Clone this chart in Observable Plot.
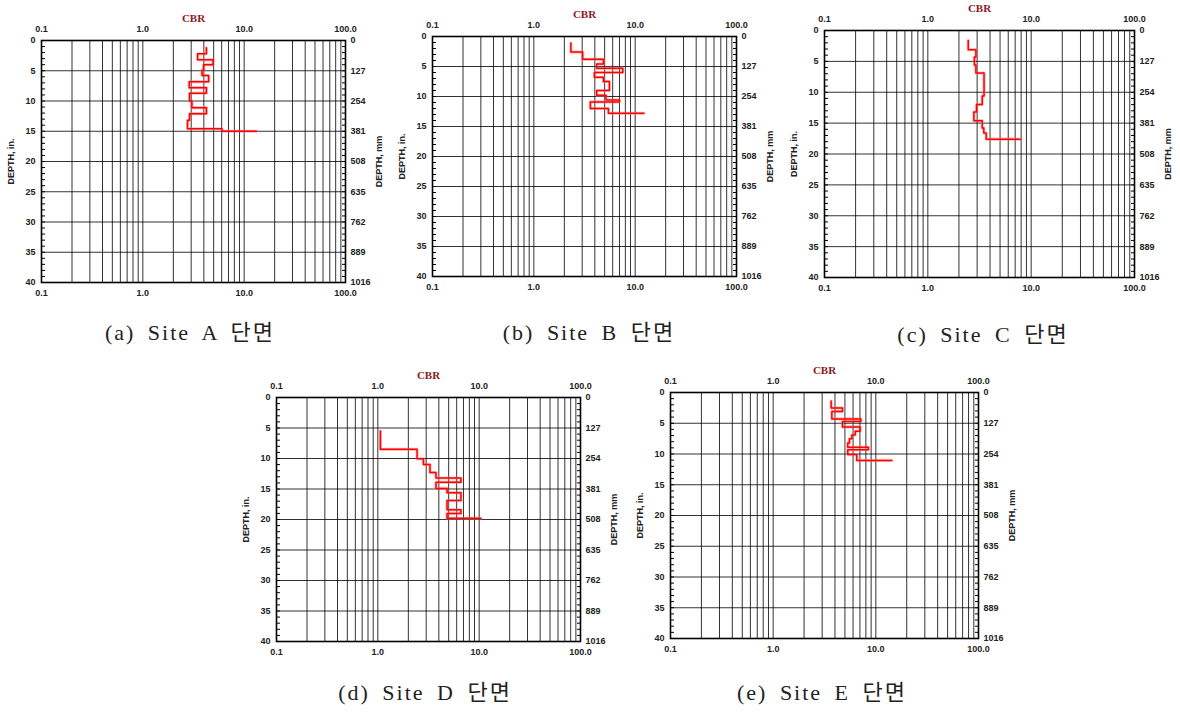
<!DOCTYPE html>
<html><head><meta charset="utf-8">
<script src="https://cdn.jsdelivr.net/npm/d3@7"></script>
<script src="https://cdn.jsdelivr.net/npm/@observablehq/plot@0.6"></script>
<style>
body{margin:0;background:#fff;}
#root{position:relative;width:1180px;height:713px;overflow:hidden;background:#fff;}
.panel{position:absolute;}
.cap{position:absolute;transform:translateX(-50%);white-space:nowrap;font-family:"Liberation Serif","Noto Sans CJK KR",serif;font-size:22px;letter-spacing:2px;word-spacing:5px;color:#222;line-height:26px;}
</style></head><body><div id="root"></div>
<script>
// Axis ticks & labels
const cbrTicks = [0.1, 1, 10, 100];
const cbrTickLabels = ["0.1", "1.0", "10.0", "100.0"];
const depthTicks = [0, 5, 10, 15, 20, 25, 30, 35, 40];
const mmTickLabels = ["0", "127", "254", "381", "508", "635", "762", "889", "1016"];
const gridCbr = [0.2,0.3,0.4,0.5,0.6,0.7,0.8,0.9,1,2,3,4,5,6,7,8,9,10,20,30,40,50,60,70,80,90];
const gridDepth = [5, 10, 15, 20, 25, 30, 35];
const minorInches = d3.range(1, 40);

// DCP profiles: depth (in.) where each layer starts, CBR of that layer
const siteA_depth = [1.2, 2.2, 3.2, 4.0, 4.9, 5.8, 6.8, 7.8, 8.7, 10.0, 11.1, 12.1, 13.2, 14.6, 15.0];
const siteA_cbr   = [4.24, 3.47, 4.93, 3.98, 3.84, 4.46, 2.87, 4.24, 2.89, 3.05, 4.24, 2.89, 2.76, 6.04, 13.2];
const siteB_depth = [1.1, 2.6, 3.8, 4.6, 5.3, 6.0, 6.8, 7.5, 9.0, 9.8, 10.6, 10.9, 12.0, 12.8];
const siteB_cbr   = [2.32, 3.03, 4.86, 4.17, 7.55, 3.96, 4.86, 5.57, 4.17, 5.16, 7.0, 3.61, 5.44, 12.2];
const siteC_depth = [1.6, 3.1, 4.3, 5.6, 6.9, 10.6, 12.0, 13.2, 14.6, 15.8, 16.6, 17.6];
const siteC_cbr   = [2.46, 2.92, 2.82, 2.92, 3.5, 3.36, 2.96, 2.79, 3.36, 3.48, 3.67, 7.9];
const siteD_depth = [5.5, 8.5, 10.05, 11.0, 12.3, 13.2, 13.9, 14.9, 15.6, 16.9, 18.4, 19.0, 19.8];
const siteD_cbr   = [1.06, 2.44, 2.82, 3.27, 3.75, 6.61, 3.75, 4.82, 6.61, 4.82, 6.61, 4.82, 10.4];
const siteE_depth = [1.4, 2.5, 3.1, 4.3, 4.7, 5.6, 6.3, 6.9, 7.5, 8.2, 8.9, 9.3, 10.1, 11.05];
const siteE_cbr   = [3.67, 4.73, 3.73, 7.14, 4.73, 7.03, 6.29, 5.84, 5.53, 5.33, 8.47, 5.33, 6.53, 14.3];

const captions = ["(a) Site A 단면", "(b) Site B 단면", "(c) Site C 단면", "(d) Site D 단면", "(e) Site E 단면"];

// layout: frame [left, top, right, bottom], caption center [x, y]
const panels = [
  {depth: siteA_depth, cbr: siteA_cbr, frame: [41, 40, 345, 282], cap: [190, 333]},
  {depth: siteB_depth, cbr: siteB_cbr, frame: [432, 36, 736, 276], cap: [589, 333]},
  {depth: siteC_depth, cbr: siteC_cbr, frame: [824, 30, 1134, 277], cap: [983, 335]},
  {depth: siteD_depth, cbr: siteD_cbr, frame: [276, 397, 580, 641], cap: [425, 693]},
  {depth: siteE_depth, cbr: siteE_cbr, frame: [670, 392, 978, 638], cap: [822, 693]}
];

const root = document.getElementById("root");
const mL = 46, mR = 48, mT = 40, mB = 22;
const font = {fontFamily: "Liberation Sans, Arial, sans-serif", fontSize: 9, fontWeight: "bold"};

panels.forEach((p, k) => {
  const [x0, y0, x1, y1] = p.frame;
  const W = x1 - x0 + mL + mR, H = y1 - y0 + mT + mB;
  const rows = p.depth.map((d, i) => ({depth: d, cbr: p.cbr[i]}));
  const svg = Plot.plot({
    width: W, height: H,
    marginLeft: mL, marginRight: mR, marginTop: mT, marginBottom: mB,
    style: {background: "transparent", overflow: "visible", fontFamily: "Liberation Sans, Arial, sans-serif", fontSize: "9px", fontWeight: "bold", color: "#222"},
    x: {type: "log", domain: [0.1, 100]},
    y: {domain: [0, 40], reverse: true},
    marks: [
      Plot.ruleX(gridCbr, {stroke: "#000", strokeWidth: 1, strokeOpacity: 0.8}),
      Plot.ruleY(gridDepth, {stroke: "#000", strokeWidth: 1, strokeOpacity: 0.8}),
      Plot.axisY({anchor: "left", ticks: minorInches, tickSize: 4, insetLeft: 4, tickFormat: () => "", label: null, stroke: "#000"}),
      Plot.axisY({anchor: "right", ticks: minorInches, tickSize: 4, insetRight: 4, tickFormat: () => "", label: null, stroke: "#000"}),
      Plot.line(rows, {x: "cbr", y: "depth", curve: "step-before", stroke: "#ff7070", strokeWidth: 3.2, strokeOpacity: 0.45}),
      Plot.line(rows, {x: "cbr", y: "depth", curve: "step-before", stroke: "#ff0000", strokeWidth: 1.5}),
      Plot.frame({stroke: "#000", strokeWidth: 1.6}),
      Plot.axisX({anchor: "top", ticks: cbrTicks, tickFormat: d => cbrTickLabels[cbrTicks.indexOf(d)], tickSize: 0, tickPadding: 9, label: null, ...font}),
      Plot.axisX({anchor: "bottom", ticks: cbrTicks, tickFormat: d => cbrTickLabels[cbrTicks.indexOf(d)], tickSize: 0, tickPadding: 7, label: null, ...font}),
      Plot.axisY({anchor: "left", ticks: depthTicks, tickFormat: d => String(d), tickSize: 0, tickPadding: 6, label: "DEPTH, in.", labelAnchor: "center", labelOffset: 34, labelArrow: false, ...font}),
      Plot.axisY({anchor: "right", ticks: depthTicks, tickFormat: d => mmTickLabels[depthTicks.indexOf(d)], tickSize: 0, tickPadding: 5, label: "DEPTH, mm", labelAnchor: "center", labelOffset: 36, labelArrow: false, ...font}),
      Plot.text(["CBR"], {frameAnchor: "top", dy: -26, text: d => d, fill: "#8b1a1a", fontFamily: "Liberation Serif, serif", fontWeight: "bold", fontSize: 11})
    ]
  });
  const div = document.createElement("div");
  div.className = "panel";
  div.style.left = (x0 - mL) + "px";
  div.style.top = (y0 - mT) + "px";
  div.style.width = W + "px";
  div.style.height = H + "px";
  div.appendChild(svg);
  root.appendChild(div);

  const cap = document.createElement("div");
  cap.className = "cap";
  cap.textContent = captions[k];
  cap.style.left = p.cap[0] + "px";
  cap.style.top = (p.cap[1] - 13) + "px";
  root.appendChild(cap);
});
</script>
</body></html>
